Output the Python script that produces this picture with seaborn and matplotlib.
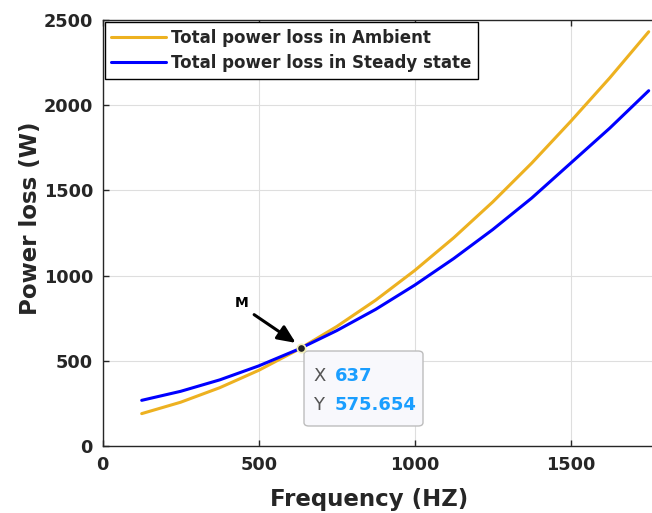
import matplotlib
matplotlib.use("Agg")
import matplotlib.pyplot as plt
import seaborn as sns
import pandas as pd
from matplotlib.patches import FancyBboxPatch

sns.set_theme(style="whitegrid")
plt.rcParams['font.family'] = ['DejaVu Sans']

freq = [125, 250, 375, 500, 625, 750, 875, 1000, 1125, 1250, 1375, 1500, 1625, 1750]
ambient = [190, 257, 342, 444, 564, 701, 856, 1030, 1222, 1432, 1660, 1905, 2160, 2431]
steady = [268, 321, 388, 470, 566, 677, 802, 944, 1100, 1270, 1455, 1660, 1865, 2085]
series_names = ["Total power loss in Ambient", "Total power loss in Steady state"]
series_colors = ["#EDB120", "#0000FF"]
x_ticks = [0, 500, 1000, 1500]
y_ticks = [0, 500, 1000, 1500, 2000, 2500]
tip_x = 637
tip_y = 575.654

df = pd.DataFrame({
    "Frequency": freq * 2,
    "Loss": ambient + steady,
    "Series": [series_names[0]] * len(freq) + [series_names[1]] * len(freq),
})

fig = plt.figure(figsize=(6.52, 5.13), dpi=100)
ax = fig.add_axes([102.7 / 652, 67 / 513, 624 / 652, 426 / 513])

sns.lineplot(data=df, x="Frequency", y="Loss", hue="Series", palette=series_colors,
             linewidth=2.2, ax=ax, legend=True)

ax.set_xlim(0, 2000)
ax.set_ylim(0, 2500)
ax.set_xticks(x_ticks)
ax.set_yticks(y_ticks)
ax.set_facecolor("white")
ax.grid(True, color="#dedede", linewidth=0.8)
for s in ax.spines.values():
    s.set_color("#262626")
    s.set_linewidth(1.0)
    s.set_visible(True)
ax.tick_params(axis="both", direction="in", length=4, width=1, color="#262626",
               labelsize=12.7, labelcolor="#262626", pad=7)
for lbl in ax.get_xticklabels() + ax.get_yticklabels():
    lbl.set_fontweight("bold")
ax.tick_params(top=True, right=True, bottom=True, left=True)

ax.set_xlabel("Frequency (HZ)", fontsize=16.5, fontweight="bold", color="#262626")
ax.set_ylabel("Power loss (W)", fontsize=16.5, fontweight="bold", color="#262626")
ax.xaxis.set_label_coords((369 - 102.7) / 624, -0.098)
ax.yaxis.set_label_coords((42 - 102.7) / 624, (446 - 218) / 426)

leg = ax.legend(loc="upper left", bbox_to_anchor=(0.003, 0.995), borderaxespad=0,
                frameon=True, fancybox=False, edgecolor="black", framealpha=1,
                prop={"weight": "bold", "size": 12.0}, handlelength=3.3,
                handletextpad=0.3, borderpad=0.4, labelspacing=0.45)
leg.get_frame().set_linewidth(1.0)
for line in leg.get_lines():
    line.set_linewidth(2.2)

# data tip
ax.plot([tip_x], [tip_y], marker="o", markersize=6, markerfacecolor="#222222",
        markeredgecolor="#f2efb8", markeredgewidth=1.2, zorder=6)
bx0, by0 = (304 - 102.7) / 624, (446 - 426) / 426
bw, bh = (423 - 304) / 624, (426 - 351) / 426
box = FancyBboxPatch((bx0, by0), bw, bh, transform=ax.transAxes,
                     boxstyle="round,pad=0,rounding_size=0.008",
                     facecolor="#f8f8fc", edgecolor="#bdbdbd", linewidth=1.0, zorder=5)
ax.add_patch(box)
ax.text((313 - 102.7) / 624, (446 - 376) / 426, "X", transform=ax.transAxes,
        fontsize=13, color="#555555", va="center", ha="left", zorder=7)
ax.text((335 - 102.7) / 624, (446 - 376) / 426, f"{tip_x}", transform=ax.transAxes,
        fontsize=13, color="#1a9eff", fontweight="bold", va="center", ha="left", zorder=7)
ax.text((313 - 102.7) / 624, (446 - 405) / 426, "Y", transform=ax.transAxes,
        fontsize=13, color="#555555", va="center", ha="left", zorder=7)
ax.text((335 - 102.7) / 624, (446 - 405) / 426, f"{tip_y:.3f}", transform=ax.transAxes,
        fontsize=13, color="#1a9eff", fontweight="bold", va="center", ha="left", zorder=7)

# annotation M
ax.annotate("", xy=(626, 596), xytext=(478, 780),
            arrowprops=dict(arrowstyle="-|>,head_length=0.9,head_width=0.4",
                            color="black", lw=2.2), zorder=6)
ax.text(446, 839, "M", fontsize=10, fontweight="bold", ha="center", va="center",
        color="black")

fig.savefig("out.png", dpi=100)
